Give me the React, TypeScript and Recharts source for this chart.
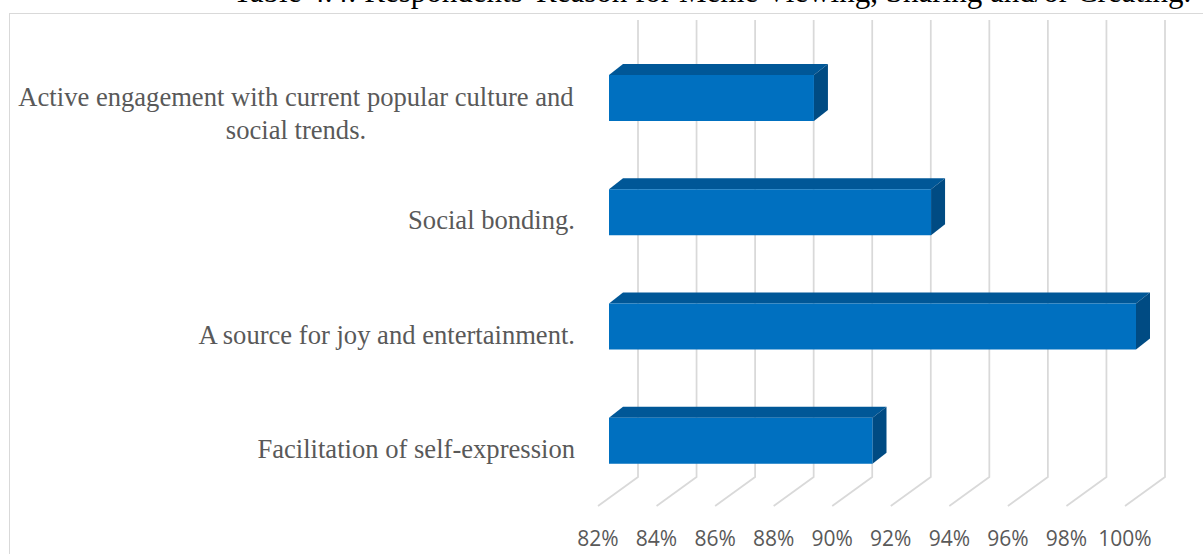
import React from "react"
import { BarChart, Bar, XAxis, YAxis, CartesianGrid } from "recharts"

const reasons = [
  "Active engagement with current popular culture and social trends.",
  "Social bonding.",
  "A source for joy and entertainment.",
  "Facilitation of self-expression",
]
const shares = [89, 93, 100, 91]
const pctTicks = [82, 84, 86, 88, 90, 92, 94, 96, 98, 100]
const title = "Table 4.4: Respondents' Reason for Meme Viewing, Sharing and/or Creating."

const data = reasons.map((reason, i) => ({ reason, value: shares[i] }))

// depth offsets for the fake 3D look
const WALL_DX = 40
const WALL_DY = 29
const BAR_OFF_X = 11
const BAR_OFF_Y = 8
const BAR_DX = 14
const BAR_DY = 11

function wrap(text: string, max: number) {
  const words = text.split(" ")
  const lines: string[] = []
  let cur = ""
  for (const w of words) {
    const next = cur ? cur + " " + w : w
    if (next.length > max && cur) {
      lines.push(cur)
      cur = w
    } else {
      cur = next
    }
  }
  if (cur) lines.push(cur)
  return lines
}

function GridLine(props: any) {
  const { x1, y1, y2 } = props
  const bx = x1 + WALL_DX
  return (
    <path
      d={`M${bx},${y1 - WALL_DY} L${bx},${y2 - WALL_DY} L${x1},${y2}`}
      stroke="#d9d9d9"
      strokeWidth={1.75}
      fill="none"
    />
  )
}

function Bar3D(props: any) {
  const { x, y, width, height } = props
  const fx = x + BAR_OFF_X
  const fy = y - BAR_OFF_Y
  const w = width
  const h = height
  return (
    <g>
      <polygon
        points={`${fx},${fy} ${fx + BAR_DX},${fy - BAR_DY} ${fx + w + BAR_DX},${fy - BAR_DY} ${fx + w},${fy}`}
        fill="#005797"
      />
      <polygon
        points={`${fx + w},${fy} ${fx + w + BAR_DX},${fy - BAR_DY} ${fx + w + BAR_DX},${fy + h - BAR_DY} ${fx + w},${fy + h}`}
        fill="#004b83"
      />
      <rect x={fx} y={fy} width={w} height={h} fill="#0070c0" />
    </g>
  )
}

function ReasonTick(props: any) {
  const { x, y, payload } = props
  const lines = wrap(String(payload.value), 51)
  const lh = 33
  const start = lines.length > 1 ? y - 9 : y
  return (
    <text
      x={x}
      y={start}
      fill="#595959"
      fontFamily="'Liberation Serif', 'Times New Roman', serif"
      fontSize={26.6}
      dominantBaseline="central"
      textAnchor={lines.length > 1 ? "middle" : "end"}
    >
      {lines.map((l, i) => (
        <tspan key={i} x={lines.length > 1 ? x - 279 : x} dy={i === 0 ? 0 : lh}>
          {l}
        </tspan>
      ))}
    </text>
  )
}

function PctTick(props: any) {
  const { x, payload } = props
  return (
    <text
      x={x}
      y={546}
      fill="#595959"
      fontFamily="'Open Sans', sans-serif"
      fontSize={21}
      textAnchor="middle"
    >
      {`${payload.value}%`}
    </text>
  )
}

export default function App() {
  return (
    <div
      style={{
        position: "absolute",
        left: 0,
        top: 0,
        width: 1203,
        height: 554,
        overflow: "hidden",
        background: "#fff",
      }}
    >
      <div
        style={{
          position: "absolute",
          left: 233,
          top: -26,
          whiteSpace: "nowrap",
          fontFamily: "'Liberation Serif', 'Times New Roman', serif",
          fontSize: 31,
          lineHeight: "36px",
          color: "#000",
        }}
      >
        {title}
      </div>
      <div
        style={{
          position: "absolute",
          left: 9,
          top: 13,
          width: 1400,
          height: 700,
          border: "1.5px solid #d9d9d9",
        }}
      />
      <div style={{ position: "absolute", left: 0, top: 0 }}>
        <BarChart
          width={1203}
          height={554}
          data={data}
          layout="vertical"
          margin={{ top: 49, right: 78, bottom: 8, left: 8 }}
        >
          <CartesianGrid horizontal={false} vertical={<GridLine />} />
          <XAxis
            type="number"
            domain={[82, 100]}
            ticks={pctTicks}
            axisLine={false}
            tickLine={false}
            height={40}
            tick={<PctTick />}
          />
          <YAxis
            type="category"
            dataKey="reason"
            width={590}
            axisLine={false}
            tickLine={false}
            tickMargin={17}
            tick={<ReasonTick />}
          />
          <Bar dataKey="value" barSize={46} shape={<Bar3D />} isAnimationActive={false} />
        </BarChart>
      </div>
    </div>
  )
}
